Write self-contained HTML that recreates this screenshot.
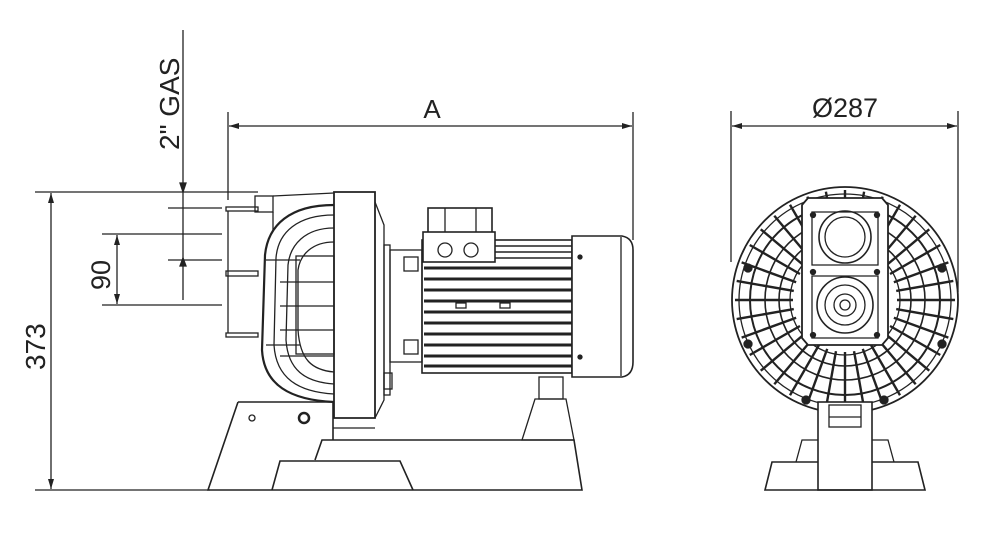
<!DOCTYPE html>
<html><head><meta charset="utf-8"><style>
html,body{margin:0;padding:0;background:#fff;width:1000px;height:552px;overflow:hidden}
svg{display:block}
text{font-family:"Liberation Sans",Arial,sans-serif;fill:#222}
</style></head><body>
<svg width="1000" height="552" viewBox="0 0 1000 552" xmlns="http://www.w3.org/2000/svg">
<defs>
<marker id="ar" viewBox="0 0 10 6" refX="10" refY="3" markerWidth="10" markerHeight="6" orient="auto-start-reverse" markerUnits="userSpaceOnUse"><path d="M0,0 L10,3 L0,6z" fill="#222"/></marker>
<line id="sp" x1="845" y1="198" x2="845" y2="140" stroke="#222" stroke-width="2.4"/>
</defs>
<g stroke="#222" stroke-width="1.3" fill="none">
<line x1="228" y1="112" x2="228" y2="200"/>
<line x1="633" y1="112" x2="633" y2="240"/>
<line x1="229" y1="126" x2="632" y2="126" marker-start="url(#ar)" marker-end="url(#ar)"/>
<line x1="731" y1="111" x2="731" y2="262"/>
<line x1="958" y1="111" x2="958" y2="292"/>
<line x1="732" y1="126" x2="957" y2="126" marker-start="url(#ar)" marker-end="url(#ar)"/>
<line x1="35" y1="192" x2="258" y2="192"/>
<line x1="35" y1="490" x2="210" y2="490"/>
<line x1="51" y1="193" x2="51" y2="489" marker-start="url(#ar)" marker-end="url(#ar)"/>
<line x1="183" y1="30" x2="183" y2="300"/>
<path d="M180,183 L183,192 L186,183z" fill="#222"/>
<path d="M180,266 L183,258 L186,266z" fill="#222"/>
<line x1="168" y1="208" x2="222" y2="208"/>
<line x1="168" y1="260" x2="222" y2="260"/>
<line x1="102" y1="234" x2="222" y2="234"/>
<line x1="102" y1="305" x2="222" y2="305"/>
<line x1="117" y1="235" x2="117" y2="304" marker-start="url(#ar)" marker-end="url(#ar)"/>

<rect x="226" y="207" width="32" height="4"/>
<rect x="226" y="271" width="32" height="5"/>
<rect x="226" y="333" width="32" height="4"/>
<line x1="228" y1="211" x2="228" y2="333"/>
<rect x="255" y="196" width="18" height="16"/>
<line x1="273" y1="212" x2="273" y2="230"/>
<path d="M273,196 L334,193"/>
<path d="M334,205 C290,205 268,225 265,255 L262,350 C264,385 290,400 334,402" stroke-width="2.2"/>
<path d="M334,215 C298,215 278,232 276,258 L274,345 C276,378 298,392 334,394"/>
<path d="M334,228 C305,228 290,245 288,265 L286,340 C288,370 305,382 334,384"/>
<path d="M334,242 C312,242 300,255 298,270 L298,330 C300,360 312,370 334,372"/>
<rect x="296" y="256" width="38" height="98"/>
<line x1="280" y1="282" x2="334" y2="282"/>
<line x1="280" y1="306" x2="334" y2="306"/>
<line x1="280" y1="330" x2="334" y2="330"/>
<line x1="280" y1="356" x2="334" y2="356"/>
<line x1="266" y1="260" x2="300" y2="260"/>
<line x1="266" y1="345" x2="300" y2="345"/>
<path d="M334,192 L375,192 L375,418 L334,418z" stroke-width="1.8"/>
<path d="M375,202 L384,225 L384,400 L375,418"/>
<rect x="384" y="245" width="6" height="150"/>
<rect x="390" y="250" width="32" height="112"/>
<rect x="384" y="373" width="8" height="16"/>
<rect x="404" y="257" width="14" height="14"/>
<rect x="404" y="340" width="14" height="14"/>
<rect x="422" y="240" width="150" height="133" stroke-width="1.6"/>
<g stroke-width="3">
<line x1="424" y1="268" x2="572" y2="268"/>
<line x1="424" y1="279" x2="572" y2="279"/>
<line x1="424" y1="290" x2="572" y2="290"/>
<line x1="424" y1="301" x2="572" y2="301"/>
<line x1="424" y1="312" x2="572" y2="312"/>
<line x1="424" y1="323" x2="572" y2="323"/>
<line x1="424" y1="334" x2="572" y2="334"/>
<line x1="424" y1="345" x2="572" y2="345"/>
<line x1="424" y1="356" x2="572" y2="356"/>
<line x1="424" y1="366" x2="572" y2="366"/>
</g>
<g stroke-width="1.4">
<line x1="495" y1="246" x2="572" y2="246"/>
<line x1="495" y1="252" x2="572" y2="252"/>
<line x1="495" y1="258" x2="572" y2="258"/>
</g>
<rect x="456" y="303" width="10" height="5" fill="#fff"/>
<rect x="500" y="303" width="10" height="5" fill="#fff"/>
<rect x="428" y="208" width="64" height="25" stroke-width="1.6"/>
<line x1="445" y1="208" x2="445" y2="233"/>
<line x1="476" y1="208" x2="476" y2="233"/>
<rect x="423" y="232" width="72" height="30" fill="#fff" stroke-width="1.6"/>
<circle cx="445" cy="250" r="7"/>
<circle cx="471" cy="250" r="7"/>
<path d="M572,236 L622,236 Q633,238 633,250 L633,362 Q633,375 622,377 L572,377z" fill="#fff" stroke-width="1.6"/>
<line x1="621" y1="237" x2="621" y2="376"/>
<circle cx="580" cy="257" r="2" fill="#222"/>
<circle cx="580" cy="357" r="2" fill="#222"/>
<rect x="539" y="377" width="24" height="22"/>
<path d="M535,399 L566,399 L574,440 L522,440z"/>
<path d="M238,402 L333,402 L333,440" stroke-width="1.6"/>
<path d="M238,402 L208,490 L582,490 L574,440 L322,440 L315,460" stroke-width="1.6"/>
<path d="M272,490 L280,461 L400,461 L413,490" stroke-width="1.6"/>
<line x1="333" y1="428" x2="375" y2="428"/>
<circle cx="252" cy="418" r="3"/>
<circle cx="304" cy="418" r="5" stroke-width="2.5"/>

<!-- RIGHT VIEW -->
<circle cx="845" cy="300" r="113" stroke-width="1.8"/>
<circle cx="845" cy="300" r="106"/>
<circle cx="845" cy="300" r="95" stroke-width="2"/>
<circle cx="845" cy="300" r="80" stroke-width="1.6"/>
<circle cx="845" cy="300" r="66" stroke-width="1.6"/>
<circle cx="845" cy="300" r="55"/>
<g transform="translate(0,50)">
<use href="#sp" transform="rotate(0 845 250)"/>
<use href="#sp" transform="rotate(10 845 250)"/>
<use href="#sp" transform="rotate(20 845 250)"/>
<use href="#sp" transform="rotate(30 845 250)"/>
<use href="#sp" transform="rotate(40 845 250)"/>
<use href="#sp" transform="rotate(50 845 250)"/>
<use href="#sp" transform="rotate(60 845 250)"/>
<use href="#sp" transform="rotate(70 845 250)"/>
<use href="#sp" transform="rotate(80 845 250)"/>
<use href="#sp" transform="rotate(90 845 250)"/>
<use href="#sp" transform="rotate(100 845 250)"/>
<use href="#sp" transform="rotate(110 845 250)"/>
<use href="#sp" transform="rotate(120 845 250)"/>
<use href="#sp" transform="rotate(130 845 250)"/>
<use href="#sp" transform="rotate(140 845 250)"/>
<use href="#sp" transform="rotate(150 845 250)"/>
<use href="#sp" transform="rotate(160 845 250)"/>
<use href="#sp" transform="rotate(170 845 250)"/>
<use href="#sp" transform="rotate(180 845 250)"/>
<use href="#sp" transform="rotate(190 845 250)"/>
<use href="#sp" transform="rotate(200 845 250)"/>
<use href="#sp" transform="rotate(210 845 250)"/>
<use href="#sp" transform="rotate(220 845 250)"/>
<use href="#sp" transform="rotate(230 845 250)"/>
<use href="#sp" transform="rotate(240 845 250)"/>
<use href="#sp" transform="rotate(250 845 250)"/>
<use href="#sp" transform="rotate(260 845 250)"/>
<use href="#sp" transform="rotate(270 845 250)"/>
<use href="#sp" transform="rotate(280 845 250)"/>
<use href="#sp" transform="rotate(290 845 250)"/>
<use href="#sp" transform="rotate(300 845 250)"/>
<use href="#sp" transform="rotate(310 845 250)"/>
<use href="#sp" transform="rotate(320 845 250)"/>
<use href="#sp" transform="rotate(330 845 250)"/>
<use href="#sp" transform="rotate(340 845 250)"/>
<use href="#sp" transform="rotate(350 845 250)"/>
</g>
<g fill="#222">
<circle cx="748" cy="268" r="4"/><circle cx="942" cy="268" r="4"/>
<circle cx="748" cy="344" r="4"/><circle cx="942" cy="344" r="4"/>
<circle cx="806" cy="400" r="4"/><circle cx="884" cy="400" r="4"/>
</g>
<path d="M808,198 L882,198 L888,205 L888,338 L882,345 L808,345 L802,338 L802,205z" fill="#fff" stroke-width="1.8"/>
<path d="M812,212 L878,212 L878,265 L812,265z"/>
<path d="M812,276 L878,276 L878,338 L812,338z"/>
<circle cx="845" cy="237" r="26" stroke-width="1.6"/>
<circle cx="845" cy="237" r="20"/>
<circle cx="845" cy="305" r="28" stroke-width="1.6"/>
<circle cx="845" cy="305" r="20"/>
<circle cx="845" cy="305" r="11"/>
<circle cx="845" cy="305" r="5"/>
<g fill="#222"><circle cx="813" cy="215" r="2.5"/><circle cx="877" cy="215" r="2.5"/><circle cx="813" cy="272" r="2.5"/><circle cx="877" cy="272" r="2.5"/><circle cx="813" cy="335" r="2.5"/><circle cx="877" cy="335" r="2.5"/></g>
<rect x="818" y="402" width="54" height="88" fill="#fff" stroke-width="1.6"/>
<rect x="829" y="405" width="32" height="22"/>
<line x1="829" y1="417" x2="861" y2="417"/>
<path d="M818,462 L772,462 L765,490 L925,490 L918,462 L872,462" stroke-width="1.6"/>
<path d="M796,462 L802,440 L818,440 M872,440 L888,440 L894,462"/>
</g>
<text x="432" y="118" font-size="26" text-anchor="middle">A</text>
<text x="845" y="117" font-size="27" text-anchor="middle">Ø287</text>
<text transform="translate(179,150) rotate(-90)" font-size="28">2" GAS</text>
<text transform="translate(110,290) rotate(-90)" font-size="27">90</text>
<text transform="translate(45,370) rotate(-90)" font-size="28">373</text>
</svg>
</body></html>
